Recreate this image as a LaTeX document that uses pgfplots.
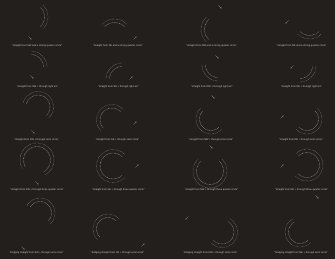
\documentclass[border=0pt]{standalone}
\usepackage{pgfplots}
\pgfplotsset{compat=1.18}
\usepackage{pgfplotstable}
\usepackage{fontspec}
\setmainfont{Liberation Sans}
\usetikzlibrary{arrows.meta}
\definecolor{bg}{HTML}{231F1C}
\definecolor{arcc}{HTML}{8C8C8C}
\definecolor{txt}{HTML}{D2D2D2}
\pgfplotstableread{
a c s
-180 -1 0
-165 -0.9659 -0.2588
-150 -0.8660 -0.5
-135 -0.7071 -0.7071
-120 -0.5 -0.8660
-105 -0.2588 -0.9659
-90 0 -1
-75 0.2588 -0.9659
-60 0.5 -0.8660
-45 0.7071 -0.7071
-30 0.8660 -0.5
-15 0.9659 -0.2588
0 1 0
15 0.9659 0.2588
30 0.8660 0.5
45 0.7071 0.7071
60 0.5 0.8660
75 0.2588 0.9659
90 0 1
105 -0.2588 0.9659
120 -0.5 0.8660
135 -0.7071 0.7071
150 -0.8660 0.5
165 -0.9659 0.2588
180 -1 0
195 -0.9659 -0.2588
210 -0.8660 -0.5
225 -0.7071 -0.7071
240 -0.5 -0.8660
255 -0.2588 -0.9659
270 0 -1
285 0.2588 -0.9659
300 0.5 -0.8660
315 0.7071 -0.7071
330 0.8660 -0.5
345 0.9659 -0.2588
360 1 0
375 0.9659 0.2588
390 0.8660 0.5
405 0.7071 0.7071
420 0.5 0.8660
}\unitcircle
\newcommand\arcs[5]{%
\addplot[arcout] table[x expr={#1+#3*\thisrow{c}}, y expr={#2-#3*\thisrow{s}}, restrict expr to domain={\thisrow{a}}{#4:#5}]{\unitcircle};
\addplot[arcin] table[x expr={#1+(#3-3.5)*\thisrow{c}}, y expr={#2-(#3-3.5)*\thisrow{s}}, restrict expr to domain={\thisrow{a}}{#4:#5}]{\unitcircle};
}
\newcommand\pcap[3]{\node[txt, font=\fontsize{2.5}{3}\selectfont, inner sep=0pt] at (axis cs:#1,#2) {"#3"};}
\begin{document}
\begin{tikzpicture}
\begin{axis}[scale only axis, width=335pt, height=259pt,
  xmin=0, xmax=335, ymin=0, ymax=259, y dir=reverse, hide axis, clip=false,
  arcout/.style={arcc, line width=0.4pt, dash pattern=on 0.5pt off 0.8pt, smooth, mark=none},
  arcin/.style={arcc!85!white, line width=0.4pt, dash pattern=on 0.7pt off 0.7pt, smooth, mark=none}]
\fill[bg] (rel axis cs:0,0) rectangle (rel axis cs:1,1);
% row 1
\arcs{31}{17}{17}{-46}{46}
\arcs{114.5}{36.5}{17.5}{44}{136}
\arcs{218.5}{29.5}{17.5}{134}{226}
\arcs{309.5}{22.5}{16.5}{224}{316}
% row 2
\arcs{31}{67}{16}{-1}{91}
\arcs{122}{79}{16}{89}{181}
\arcs{218}{65}{16}{179}{271}
\arcs{300}{66}{16}{269}{361}
% row 3
\arcs{38}{107}{15.5}{-46}{166}
\arcs{112}{120}{15.5}{44}{236}
\arcs{211}{119}{15}{134}{316}
\arcs{307}{119}{15}{-136}{46}
% row 4
\arcs{37}{160}{17}{-61}{211}
\arcs{113}{166}{16.5}{44}{316}
\arcs{210}{171}{17}{134}{406}
\arcs{307}{165}{16}{-136}{136}
% row 5
\arcs{40}{213}{15}{-46}{151}
\arcs{108}{229}{15}{44}{226}
\arcs{222}{232}{15.5}{-136}{61}
\arcs{300}{232}{15}{119}{321}
% arrows
\addplot[arcc, line width=0.35pt, -{Stealth[length=1.4pt,width=1.3pt]}, mark=none,
  quiver={u=\thisrow{u}, v=\thisrow{v}}] table {
x y u v
28.5 36.5 3 3
133.5 39.5 3 -3
218.5 5.5 3 3
288.5 20.5 -3 3
30.5 75.5 3 3
129.5 79.5 3 -3
215.5 55.5 3 3
293.5 65.5 -3 3
31.5 130.5 3 3
133.5 124.5 3 -3
211.5 95.5 3 3
280.5 118.5 3 -3
35.5 181.5 3 3
135.5 167.5 3 -3
209.5 145.5 3 3
280.5 167.5 3 -3
21.5 246.5 3 3
141.5 246.5 3 -3
188.5 216.5 -3 3
315.5 195.5 3 3
};
% captions
\pcap{37}{46}{straight from SW and a strong quarter circle}
\pcap{118}{46}{straight from SE and a strong quarter circle}
\pcap{211.5}{46}{straight from NW and a strong quarter circle}
\pcap{301.5}{46}{straight from NE and a strong quarter circle}
\pcap{37.5}{87}{straight from SW + through right arc}
\pcap{118.5}{87}{straight from SE + through right arc}
\pcap{212}{87}{straight from NW + through right arc}
\pcap{301.5}{87}{straight from NE + through right arc}
\pcap{36.5}{140}{straight from SW + through semi circle}
\pcap{117.5}{140}{straight from SE + through semi circle}
\pcap{211}{140}{straight from NW + through semi circle}
\pcap{301}{140}{straight from NE + through semi circle}
\pcap{37}{190}{straight from SW + through three quarter circle}
\pcap{118.5}{190}{straight from SE + through three quarter circle}
\pcap{211.5}{190}{straight from NW + through three quarter circle}
\pcap{301.5}{190}{straight from NE + through three quarter circle}
\pcap{36.5}{253}{bridging straight from SW + through semi circle}
\pcap{117.5}{253}{bridging straight from SE + through semi circle}
\pcap{210.5}{253}{bridging straight from NW + through semi circle}
\pcap{301}{253}{bridging straight from NE + through semi circle}
\end{axis}
\end{tikzpicture}
\end{document}
